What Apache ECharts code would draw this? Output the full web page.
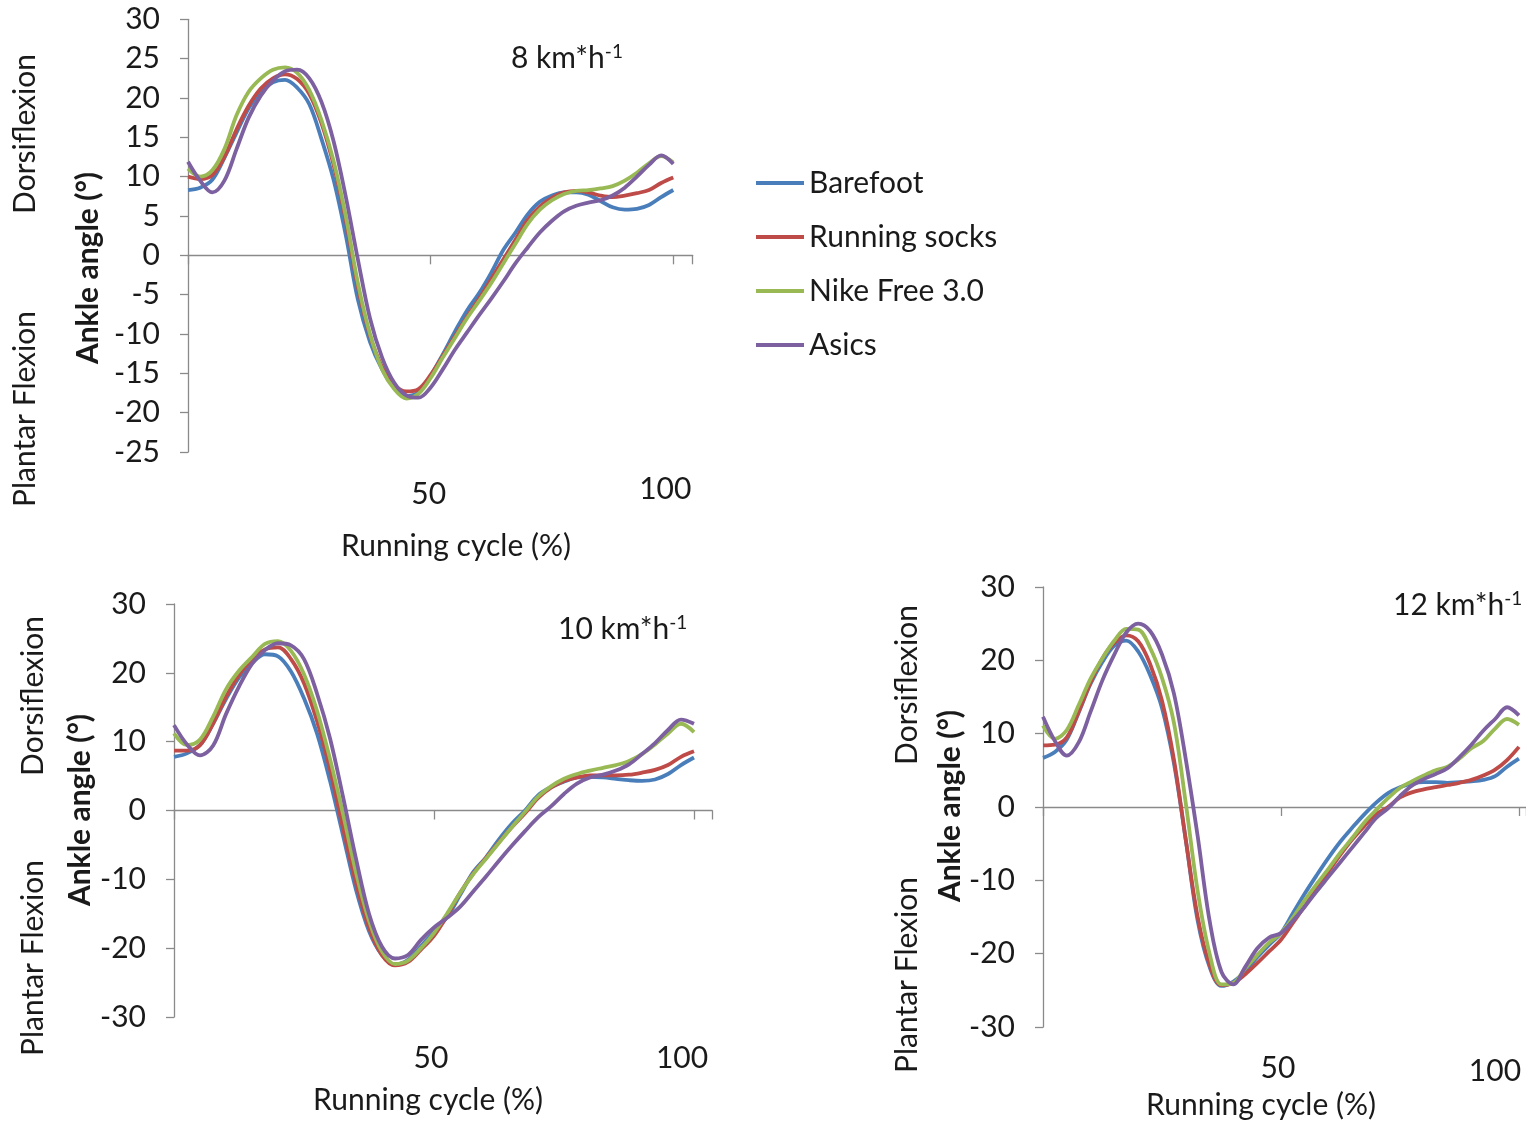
<!DOCTYPE html>
<html>
<head>
<meta charset="utf-8">
<script src="https://cdn.jsdelivr.net/npm/echarts@6/dist/echarts.min.js"></script>
<style>html,body{margin:0;padding:0;background:#fff}#c{width:1526px;height:1122px}</style>
</head>
<body>
<div id="c"></div>
<script>
// ---------- data ----------
const seriesNames = ['Barefoot', 'Running socks', 'Nike Free 3.0', 'Asics'];
const panelTitles = ['8 km*h', '10 km*h', '12 km*h'];
const xTickLabels = [50, 100];
const yTicks8 = [-25, 30, 5];
const yTicks10 = [-30, 30, 10];
const yTicks12 = [-30, 30, 10];
const cycle = [0,2.5,5,7.5,10,12.5,15,17.5,20,22.5,25,27.5,30,32.5,35,37.5,40,42.5,45,47.5,50,52.5,55,57.5,60,62.5,65,67.5,70,72.5,75,77.5,80,82.5,85,87.5,90,92.5,95,97.5,100];

// 8 km/h
const barefoot8 = [8.3,8.6,9.6,12.4,15.6,18.7,20.8,22.0,22.3,21.3,19.2,14.8,9.6,2.6,-5.6,-11.0,-14.5,-16.8,-17.9,-17.4,-15.3,-12.6,-9.7,-7.0,-4.8,-2.2,0.7,2.9,5.2,6.8,7.6,8.0,8.0,7.7,6.9,6.1,5.8,5.9,6.4,7.4,8.3];
const socks8    = [10.0,9.7,10.2,12.5,16.0,19.0,21.2,22.5,23.0,22.4,20.5,16.8,11.5,4.5,-4.0,-10.2,-14.2,-16.5,-17.3,-17.0,-15.2,-12.8,-10.3,-7.8,-5.5,-3.0,-0.5,2.0,4.5,6.2,7.3,8.0,8.2,8.0,7.6,7.4,7.6,7.9,8.3,9.2,9.9];
const nike8     = [11.0,10.0,10.8,13.5,17.8,20.8,22.5,23.6,23.9,23.2,21.0,17.2,12.0,5.0,-3.5,-10.0,-14.5,-17.0,-18.2,-17.6,-15.6,-13.0,-10.5,-8.0,-5.8,-3.5,-1.0,1.5,4.0,5.8,7.0,7.8,8.2,8.3,8.5,8.8,9.5,10.5,11.7,12.6,11.8];
const asics8    = [11.9,9.5,8.0,9.5,13.5,17.5,20.3,22.2,23.4,23.6,22.5,19.5,14.5,7.5,-0.5,-8.0,-13.0,-16.2,-17.8,-18.1,-16.8,-14.5,-12.0,-9.8,-7.6,-5.5,-3.3,-1.0,1.0,2.9,4.4,5.6,6.3,6.7,7.0,7.6,8.6,10.0,11.5,12.7,11.6];

// 10 km/h
const barefoot10 = [7.8,8.3,9.5,12.6,16.2,19.3,21.4,22.7,22.4,20.2,16.3,11.2,4.3,-3.6,-11.5,-17.5,-21.0,-22.4,-21.7,-19.7,-17.6,-15.5,-12.3,-9.0,-6.8,-4.2,-1.9,0.0,2.2,3.4,4.2,4.8,4.9,4.8,4.6,4.4,4.3,4.5,5.3,6.6,7.7];
const socks10    = [8.7,8.7,9.5,12.6,16.5,19.7,22.0,23.4,23.7,22.0,18.5,13.0,6.0,-2.5,-10.5,-17.0,-21.0,-22.5,-22.0,-20.2,-18.2,-15.3,-12.0,-9.2,-6.9,-4.6,-2.4,-0.4,1.8,3.3,4.3,4.8,5.1,5.1,5.1,5.2,5.5,5.9,6.6,7.8,8.6];
const nike10     = [11.2,9.5,10.3,13.6,17.6,20.3,22.3,24.2,24.6,23.2,19.8,14.5,7.5,-0.5,-9.0,-16.0,-20.5,-22.3,-21.8,-20.0,-17.8,-15.0,-12.0,-9.3,-7.0,-4.7,-2.4,-0.2,2.0,3.5,4.6,5.3,5.8,6.2,6.6,7.2,8.2,9.6,11.2,12.6,11.4];
const asics10    = [12.4,9.6,8.0,9.4,14.0,18.0,21.3,23.3,24.3,24.0,22.0,17.0,10.5,2.0,-7.0,-15.0,-19.8,-21.5,-21.0,-18.8,-17.0,-15.6,-14.0,-11.8,-9.6,-7.3,-5.1,-3.0,-1.0,0.6,2.4,3.9,4.8,5.2,5.8,6.7,8.2,9.8,11.7,13.2,12.6];

// 12 km/h
const barefoot12 = [6.7,7.5,9.2,12.9,16.8,19.8,22.0,22.7,21.2,18.0,13.5,6.0,-4.5,-15.5,-21.8,-24.4,-23.8,-22.4,-20.5,-18.8,-17.2,-14.5,-11.8,-9.3,-6.9,-4.7,-2.8,-1.0,0.6,1.9,2.7,3.2,3.4,3.4,3.3,3.4,3.5,3.7,4.2,5.5,6.6];
const socks12    = [8.4,8.5,9.5,13.0,17.0,20.3,22.4,23.4,22.6,19.5,14.5,6.5,-4.5,-15.0,-21.5,-24.3,-24.0,-22.8,-21.3,-19.7,-18.1,-15.8,-13.5,-11.0,-8.8,-6.5,-4.4,-2.6,-1.0,0.0,1.3,2.0,2.4,2.7,3.0,3.3,3.7,4.3,5.1,6.4,8.2];
const nike12     = [11.1,9.3,10.5,13.9,17.5,20.3,22.7,24.3,24.2,21.7,17.6,11.5,0.5,-11.5,-20.0,-24.2,-24.0,-22.0,-20.2,-18.5,-17.2,-15.1,-12.7,-10.5,-8.4,-6.2,-4.2,-2.1,-0.4,1.2,2.6,3.5,4.3,5.0,5.5,6.6,8.0,9.0,10.7,12.0,11.2];
const asics12    = [12.3,9.0,7.0,8.8,13.0,17.3,20.8,23.8,25.0,24.0,20.8,15.5,6.5,-4.0,-15.5,-22.5,-24.2,-21.8,-19.3,-17.8,-17.2,-15.5,-13.6,-11.5,-9.5,-7.5,-5.5,-3.5,-1.5,-0.2,1.5,2.9,3.8,4.5,5.3,6.8,8.5,10.4,12.0,13.6,12.5];

// ---------- chart ----------
const colors = ['#4a7ebb', '#be4b48', '#98b954', '#7d60a0'];
const FONT = 'Lato';
const FS = 30;
const TXT = '#1a1a1a';
const AX = '#8a8a8a';

const panels = [
  { data: [barefoot8, socks8, nike8, asics8], y: yTicks8,
    grid: { left: 188, top: 19.3, width: 504.7, height: 432.7 }, xMax: 104,
    lab: { margin: 22, a: [10, 4, 0, 0], b: [0, 16, 0, 0] } },
  { data: [barefoot10, socks10, nike10, asics10], y: yTicks10,
    grid: { left: 174, top: 604, width: 538.2, height: 413 }, xMax: 103.5,
    lab: { margin: 26, a: [0, 6, 0, 0], b: [0, 24, 0, 0] } },
  { data: [barefoot12, socks12, nike12, asics12], y: yTicks12,
    grid: { left: 1043, top: 587, width: 483.1, height: 440 }, xMax: 101.5,
    lab: { margin: 26, a: [0, 6, 0, 0], b: [6, 48, 0, 0] } }
];

const grid = [], xAxis = [], yAxis = [], series = [];
panels.forEach((p, i) => {
  grid.push(Object.assign({ containLabel: false, outerBoundsMode: 'none' }, p.grid));
  // zero-line axis with ticks
  xAxis.push({
    type: 'value', gridIndex: i, min: 0, max: p.xMax, interval: 50,
    axisLine: { show: true, onZero: true, lineStyle: { color: AX, width: 1.3 } },
    axisTick: { show: true, length: 9, lineStyle: { color: AX, width: 1.3 } },
    axisLabel: { show: false }, splitLine: { show: false }
  });
  // bottom labels axis
  xAxis.push({
    type: 'value', gridIndex: i, min: 0, max: p.xMax, interval: 50, position: 'bottom',
    axisLine: { show: false, onZero: false }, axisTick: { show: false }, splitLine: { show: false },
    axisLabel: {
      show: true, margin: p.lab.margin, showMinLabel: false, showMaxLabel: false, hideOverlap: false,
      formatter: v => v === xTickLabels[0] ? '{a|' + v + '}' : (v === xTickLabels[1] ? '{b|' + v + '}' : ''),
      rich: {
        a: { fontSize: FS, fontFamily: FONT, color: TXT, lineHeight: 30, padding: p.lab.a },
        b: { fontSize: FS, fontFamily: FONT, color: TXT, lineHeight: 30, padding: p.lab.b }
      }
    }
  });
  yAxis.push({
    type: 'value', gridIndex: i, min: p.y[0], max: p.y[1], interval: p.y[2],
    axisLine: { show: true, onZero: false, lineStyle: { color: AX, width: 1.3 } },
    axisTick: { show: true, length: 8, lineStyle: { color: AX, width: 1.3 } },
    axisLabel: { margin: 28, fontSize: FS, fontFamily: FONT, color: TXT },
    splitLine: { show: false }
  });
  p.data.forEach((vals, k) => {
    series.push({
      name: seriesNames[k], type: 'line', xAxisIndex: i * 2, yAxisIndex: i,
      data: cycle.map((x, j) => [x, vals[j]]),
      smooth: 0.35, symbol: 'none', clip: false,
      lineStyle: { color: colors[k], width: 3.8 }, itemStyle: { color: colors[k] },
      z: 2 + k
    });
  });
});

function vtext(x, y, text, bold) {
  return { type: 'text', x: x, y: y, rotation: Math.PI / 2,
    style: { text: text, font: (bold ? 'bold ' : '') + FS + 'px ' + FONT, fill: TXT,
      textAlign: 'center', textVerticalAlign: 'middle' } };
}
function htext(x, y, text) {
  return { type: 'text', x: x, y: y,
    style: { text: text, font: FS + 'px ' + FONT, fill: TXT, textAlign: 'center', textVerticalAlign: 'middle' } };
}
function title(x, y, t) {
  return { type: 'text', x: x, y: y,
    style: { text: '{a|' + t + '}{s|-1}', textAlign: 'left', textVerticalAlign: 'middle',
      rich: { a: { fontSize: FS, fontFamily: FONT, fill: TXT, color: TXT, lineHeight: 32 },
              s: { fontSize: 19, fontFamily: FONT, fill: TXT, color: TXT, lineHeight: 18, verticalAlign: 'top' } } } };
}

const graphic = [
  vtext(25, 134, 'Dorsiflexion'), vtext(25, 409, 'Plantar Flexion'), vtext(88, 268, 'Ankle angle (°)', true),
  htext(456, 546, 'Running cycle (%)'), title(511, 58, panelTitles[0]),
  vtext(33, 696, 'Dorsiflexion'), vtext(33, 958, 'Plantar Flexion'), vtext(80, 810, 'Ankle angle (°)', true),
  htext(428, 1100, 'Running cycle (%)'), title(558, 629, panelTitles[1]),
  vtext(907, 685, 'Dorsiflexion'), vtext(907, 975, 'Plantar Flexion'), vtext(950, 806, 'Ankle angle (°)', true),
  htext(1261, 1105, 'Running cycle (%)'), title(1393, 605, panelTitles[2])
];

const chart = echarts.init(document.getElementById('c'), null, { renderer: 'canvas' });
chart.setOption({
  animation: false,
  backgroundColor: '#ffffff',
  legend: {
    data: seriesNames, orient: 'vertical', left: 751, top: 163,
    icon: 'rect', itemWidth: 48, itemHeight: 4, itemGap: 24,
    textStyle: { fontSize: FS, fontFamily: FONT, color: TXT, lineHeight: 30 },
    selectedMode: false
  },
  grid: grid, xAxis: xAxis, yAxis: yAxis, series: series, graphic: graphic
});
</script>
</body>
</html>
